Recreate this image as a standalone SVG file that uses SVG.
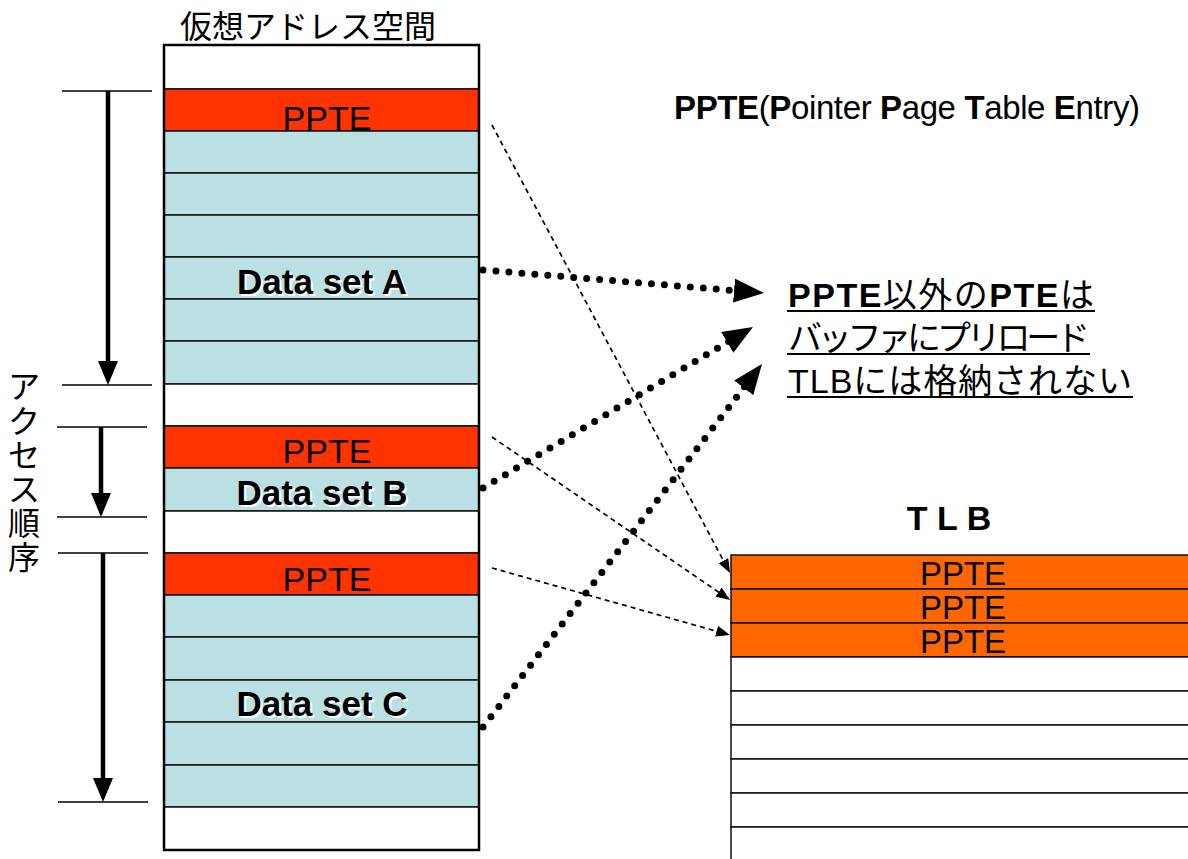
<svg xmlns="http://www.w3.org/2000/svg" width="1188" height="859" viewBox="0 0 1188 859">
<style>
.t{font-family:"Liberation Sans","Noto Sans CJK JP",sans-serif;fill:#000}
.cell{stroke:#111;stroke-width:1.5}
.red{fill:#FF3300}.blue{fill:#BBE0E3}.wh{fill:#fff}.org{fill:#FF6600}
.pp{font-size:34px;text-anchor:middle}
.pt{font-size:33px;text-anchor:middle}
.ds{font-size:35px;font-weight:bold;text-anchor:middle}
.dsw{font-size:35px;font-weight:bold;text-anchor:middle;fill:#fff}
.tick{stroke:#000;stroke-width:1.5}
.acc{stroke:#000;stroke-width:4.5;fill:none}
.dot{stroke:#000;stroke-width:7;stroke-linecap:round;stroke-dasharray:0 13;fill:none}
.dash{stroke:#000;stroke-width:1.7;stroke-dasharray:5 4;fill:none}
</style>
<defs>
<marker id="hd" markerUnits="userSpaceOnUse" viewBox="0 0 24 20" markerWidth="24" markerHeight="20" refX="12" refY="10" orient="auto"><path d="M0,0 L24,10 L0,20 z" fill="#000"/></marker>
<marker id="hdot" markerUnits="userSpaceOnUse" viewBox="0 0 30 24" markerWidth="30" markerHeight="24" refX="10" refY="12" orient="auto"><path d="M0,0 L30,12 L0,24 z" fill="#000"/></marker>
<marker id="hdash" markerUnits="userSpaceOnUse" viewBox="0 0 14 11" markerWidth="14" markerHeight="11" refX="4" refY="5.5" orient="auto"><path d="M0,0 L14,5.5 L0,11 z" fill="#000"/></marker>
</defs>
<rect width="1188" height="859" fill="#fff"/>

<text class="t" x="180" y="38" font-size="32">仮想アドレス空間</text>

<g id="vas">
<rect class="cell wh" x="164" y="45" width="315" height="44"/>
<rect class="cell red" x="164" y="89" width="315" height="42"/>
<rect class="cell blue" x="164" y="131" width="315" height="42"/>
<rect class="cell blue" x="164" y="173" width="315" height="42"/>
<rect class="cell blue" x="164" y="215" width="315" height="42"/>
<rect class="cell blue" x="164" y="257" width="315" height="42"/>
<rect class="cell blue" x="164" y="299" width="315" height="42"/>
<rect class="cell blue" x="164" y="341" width="315" height="43"/>
<rect class="cell wh" x="164" y="384" width="315" height="42"/>
<rect class="cell red" x="164" y="426" width="315" height="42"/>
<rect class="cell blue" x="164" y="468" width="315" height="43"/>
<rect class="cell wh" x="164" y="511" width="315" height="42"/>
<rect class="cell red" x="164" y="553" width="315" height="42"/>
<rect class="cell blue" x="164" y="595" width="315" height="42"/>
<rect class="cell blue" x="164" y="637" width="315" height="43"/>
<rect class="cell blue" x="164" y="680" width="315" height="42"/>
<rect class="cell blue" x="164" y="722" width="315" height="43"/>
<rect class="cell blue" x="164" y="765" width="315" height="42"/>
<rect class="cell wh" x="164" y="807" width="315" height="43"/>
<rect x="164" y="45" width="315" height="805" fill="none" stroke="#000" stroke-width="2.5"/>
</g>
<g id="vas-labels">
<text class="t pp" x="327" y="130">PPTE</text>
<text class="t pp" x="327" y="463">PPTE</text>
<text class="t pp" x="327" y="591">PPTE</text>
<text class="t dsw" x="324" y="296">Data set A</text>
<text class="t ds" x="322" y="294">Data set A</text>
<text class="t dsw" x="324" y="507">Data set B</text>
<text class="t ds" x="322" y="505">Data set B</text>
<text class="t dsw" x="324" y="718">Data set C</text>
<text class="t ds" x="322" y="716">Data set C</text>
</g>

<g id="access-order">
<line class="tick" x1="62" y1="91" x2="152" y2="91"/>
<line class="tick" x1="62" y1="385" x2="152" y2="385"/>
<line class="tick" x1="57" y1="427" x2="147" y2="427"/>
<line class="tick" x1="57" y1="517" x2="147" y2="517"/>
<line class="tick" x1="58" y1="553" x2="148" y2="553"/>
<line class="tick" x1="58" y1="802" x2="148" y2="802"/>
<text class="t" font-size="32" text-anchor="middle"><tspan x="24" y="398">ア</tspan><tspan x="24" y="433">ク</tspan><tspan x="24" y="467">セ</tspan><tspan x="24" y="501">ス</tspan><tspan x="24" y="535">順</tspan><tspan x="24" y="569">序</tspan></text>
</g>

<g id="title-ppte">
<text class="t" x="674" y="119" font-size="33" textLength="466"><tspan font-weight="bold">PPTE</tspan>(<tspan font-weight="bold">P</tspan>ointer <tspan font-weight="bold">P</tspan>age <tspan font-weight="bold">T</tspan>able <tspan font-weight="bold">E</tspan>ntry)</text>
</g>

<g id="note">
<text class="t" x="788" y="307" font-size="34" textLength="306"><tspan font-weight="bold">PPTE</tspan>以外の<tspan font-weight="bold">PTE</tspan>は</text>
<text class="t" x="788" y="350" font-size="34" textLength="302">バッファにプリロード</text>
<text class="t" x="788" y="393" font-size="34" textLength="344">TLBには格納されない</text>
<line x1="787" y1="311" x2="1095" y2="311" stroke="#000" stroke-width="2"/>
<line x1="787" y1="354" x2="1090" y2="354" stroke="#000" stroke-width="2"/>
<line x1="787" y1="397" x2="1133" y2="397" stroke="#000" stroke-width="2"/>
</g>

<g id="tlb">
<text class="t" x="949" y="530" font-size="34" font-weight="bold" text-anchor="middle">T L B</text>
<rect class="cell org" x="731" y="555" width="460" height="34"/>
<rect class="cell org" x="731" y="589" width="460" height="34"/>
<rect class="cell org" x="731" y="623" width="460" height="34"/>
<rect class="cell wh" x="731" y="657" width="460" height="34"/>
<rect class="cell wh" x="731" y="691" width="460" height="34"/>
<rect class="cell wh" x="731" y="725" width="460" height="34"/>
<rect class="cell wh" x="731" y="759" width="460" height="34"/>
<rect class="cell wh" x="731" y="793" width="460" height="34"/>
<rect class="cell wh" x="731" y="827" width="460" height="40"/>
<text class="t pt" x="963" y="585">PPTE</text>
<text class="t pt" x="963" y="619">PPTE</text>
<text class="t pt" x="963" y="653">PPTE</text>
</g>

<g id="connectors">
<line class="acc" x1="108" y1="91" x2="108" y2="373" marker-end="url(#hd)"/>
<line class="acc" x1="101" y1="427" x2="101" y2="505" marker-end="url(#hd)"/>
<line class="acc" x1="103" y1="553" x2="103" y2="790" marker-end="url(#hd)"/>
<line class="dot" x1="483" y1="270" x2="744" y2="291.4" marker-end="url(#hdot)"/>
<line class="dot" x1="483" y1="488" x2="735.8" y2="337.2" marker-end="url(#hdot)"/>
<line class="dot" x1="483" y1="727" x2="749.8" y2="379.9" marker-end="url(#hdot)"/>
<line class="dash" x1="492" y1="125" x2="725.3" y2="564.2" marker-end="url(#hdash)"/>
<line class="dash" x1="492" y1="437" x2="721.8" y2="594.4" marker-end="url(#hdash)"/>
<line class="dash" x1="492" y1="568" x2="720.4" y2="632.3" marker-end="url(#hdash)"/>
</g>
</svg>
